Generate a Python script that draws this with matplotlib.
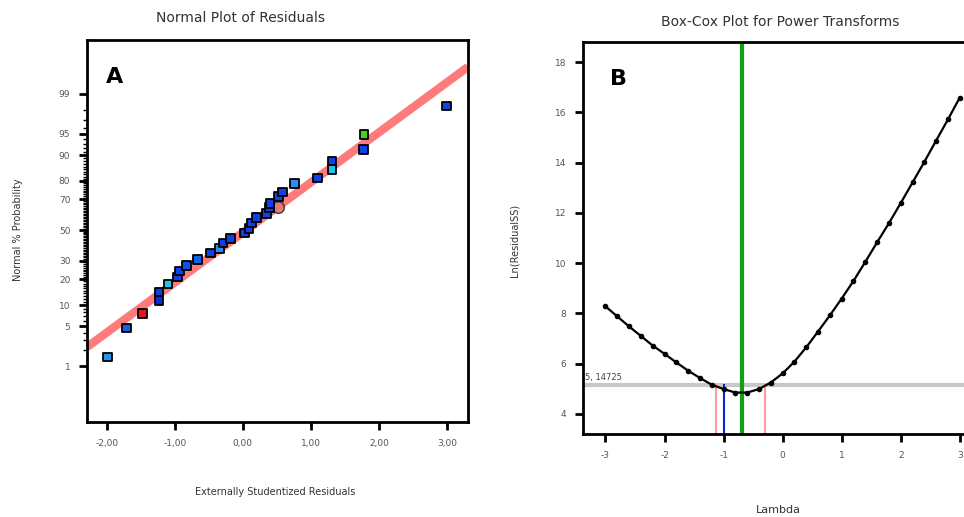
import numpy as np
import matplotlib
matplotlib.use("Agg")
import matplotlib.pyplot as plt
from statistics import NormalDist

plt.rcParams["axes.unicode_minus"] = False
nd = NormalDist()

# --- Panel A data: residuals vs normal % probability ---
resid = [-1.985, -1.71, -1.47, -1.23, -1.23, -1.10, -0.96, -0.93, -0.83, -0.67,
         -0.47, -0.34, -0.29, -0.18, 0.02, 0.09, 0.13, 0.20, 0.35, 0.39, 0.40,
         0.52, 0.58, 0.76, 1.10, 1.31, 1.31, 1.77, 1.78, 2.99]
prob_z = [-2.17, -1.675, -1.42, -1.21, -1.06, -0.92, -0.80, -0.70, -0.60, -0.50,
          -0.39, -0.31, -0.22, -0.14, -0.05, 0.03, 0.12, 0.21, 0.29, 0.38, 0.46,
          0.57, 0.65, 0.79, 0.89, 1.03, 1.18, 1.38, 1.64, 2.12]
point_colors = ["#2a8ff0", "#1760e8", "#e01818", "#0a2ad8", "#1040e8", "#22c4ea",
                "#1040e8", "#1040e8", "#1450e8", "#1560e8", "#1040e8", "#2a8ff0",
                "#1040e8", "#1040e8", "#1040e8", "#1040e8", "#1040e8", "#1040e8",
                "#1040e8", "#1040e8", "#1040e8", "#1040e8", "#1040e8", "#2a8ff0",
                "#1040e8", "#22c4ea", "#1040e8", "#1040e8", "#4cd020", "#1040e8"]
circle_pt = (0.52, 0.39)
line_x = [-2.29, 3.31]
line_z = [-2.0, 2.79]
prob_ticks = [1, 5, 10, 20, 30, 50, 70, 80, 90, 95, 99]
resid_ticks = [-2, -1, 0, 1, 2, 3]
resid_labels = ["-2,00", "-1,00", "0,00", "1,00", "2,00", "3,00"]

# --- Panel B data: Box-Cox ---
lam = [-3.0, -2.8, -2.6, -2.4, -2.2, -2.0, -1.8, -1.6, -1.4, -1.2, -1.0, -0.8,
       -0.6, -0.4, -0.2, 0.0, 0.2, 0.4, 0.6, 0.8, 1.0, 1.2, 1.4, 1.6, 1.8, 2.0,
       2.2, 2.4, 2.6, 2.8, 3.0]
ln_ss = [8.28, 7.88, 7.48, 7.10, 6.72, 6.39, 6.05, 5.72, 5.43, 5.16, 4.99, 4.85,
         4.85, 4.99, 5.25, 5.61, 6.08, 6.65, 7.28, 7.92, 8.59, 9.29, 10.05, 10.83,
         11.59, 12.39, 13.21, 14.03, 14.88, 15.72, 16.59]
ci_level = 5.14725
best_lam = -0.69
current_lam = -1.0
ci_low, ci_high = -1.13, -0.29

tick_color = "#555555"
fig = plt.figure(figsize=(9.64, 5.17), dpi=100)

# ---------------- Panel A ----------------
axA = fig.add_axes([0.0902, 0.1838, 0.3953, 0.7389])
axA.plot(line_x, line_z, color="#ff7a7a", lw=6, solid_capstyle="butt", zorder=1)
axA.scatter(resid, prob_z, marker="s", s=40, c=point_colors,
            edgecolors="black", linewidths=1.3, zorder=3)
axA.scatter([circle_pt[0]], [circle_pt[1]], marker="o", s=70, c="#e07a70",
            edgecolors="#333333", linewidths=1.2, alpha=0.85, zorder=2)
axA.set_xlim(-2.29, 3.31)
axA.set_ylim(-3.28, 3.25)
axA.set_xticks(resid_ticks)
axA.set_xticklabels(resid_labels)
axA.set_yticks([nd.inv_cdf(p / 100) for p in prob_ticks])
axA.set_yticklabels([str(p) for p in prob_ticks])
axA.set_yticks([nd.inv_cdf(p / 100) for p in range(1, 100)], minor=True)
axA.tick_params(axis="y", which="minor", length=3, width=1, direction="out")
axA.text(0.05, 0.93, "A", transform=axA.transAxes, fontsize=16,
         fontweight="bold", va="top")
fig.text(0.249, 0.965, "Normal Plot of Residuals", ha="center", va="center",
         fontsize=10, color="#333333")
fig.text(0.019, 0.555, "Normal % Probability", rotation=90, ha="center",
         va="center", fontsize=7, color="#333333")
fig.text(0.285, 0.048, "Externally Studentized Residuals", ha="center",
         va="center", fontsize=7, color="#333333")

# ---------------- Panel B ----------------
axB = fig.add_axes([0.6048, 0.1605, 0.40, 0.7582])
axB.axhline(ci_level, color="#c8c8c8", lw=3, zorder=1)
axB.axvline(best_lam, color="#10a010", lw=3, zorder=2)
axB.plot([current_lam, current_lam], [3.2, ci_level], color="#1020e0", lw=1.5, zorder=2)
axB.plot([ci_low, ci_low], [3.2, ci_level], color="#ff9a9a", lw=1.5, zorder=2)
axB.plot([ci_high, ci_high], [3.2, ci_level], color="#ff9a9a", lw=1.5, zorder=2)
axB.plot(lam, ln_ss, color="black", lw=1.6, marker="o", markersize=3, zorder=3)
axB.text(-3.34, ci_level + 0.12, "5, 14725", fontsize=6, color="#444444",
         va="bottom")
axB.set_xlim(-3.38, 3.15)
axB.set_ylim(3.2, 18.8)
axB.set_xticks([-3, -2, -1, 0, 1, 2, 3])
axB.set_yticks([4, 6, 8, 10, 12, 14, 16, 18])
axB.spines["right"].set_visible(False)
axB.text(0.07, 0.93, "B", transform=axB.transAxes, fontsize=16,
         fontweight="bold", va="top")
fig.text(0.809, 0.958, "Box-Cox Plot for Power Transforms", ha="center",
         va="center", fontsize=10, color="#333333")
fig.text(0.534, 0.535, "Ln(ResidualSS)", rotation=90, ha="center",
         va="center", fontsize=7, color="#333333")
fig.text(0.807, 0.013, "Lambda", ha="center", va="center", fontsize=8,
         color="#333333")

for ax in (axA, axB):
    for s in ax.spines.values():
        s.set_linewidth(2)
    ax.tick_params(axis="both", which="major", length=6, width=2,
                   labelsize=6.5, labelcolor=tick_color, pad=6)

fig.savefig("out.png", dpi=100)
